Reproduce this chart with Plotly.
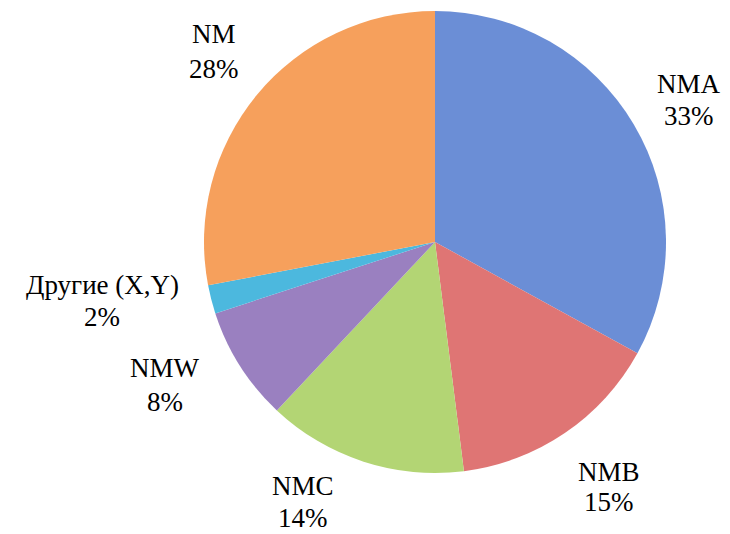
import plotly.graph_objects as go

labels = ["NMA", "NMB", "NMC", "NMW", "Другие (X,Y)", "NM"]
values = [33, 15, 14, 8, 2, 28]
colors = ["#6b8ed6", "#df7574", "#b3d574", "#9a80c0", "#4cb8de", "#f6a05c"]

# label line centers in pixels: (x, y of name line, y of percent line)
label_pos = [(689, 84, 116), (609, 472, 502), (303, 486, 518),
             (165, 368, 402), (102, 285, 317), (214, 34, 69)]

W, H = 730, 534
cx, cy, r = 435, 242, 231

fig = go.Figure(go.Pie(
    labels=labels,
    values=values,
    sort=False,
    direction="clockwise",
    rotation=0,
    textinfo="none",
    hoverinfo="label+percent",
    marker=dict(colors=colors, line=dict(width=0)),
    domain=dict(x=[(cx - r) / W, (cx + r) / W], y=[(H - cy - r) / H, (H - cy + r) / H]),
    showlegend=False,
))

total = sum(values)
for lab, val, (px, py1, py2) in zip(labels, values, label_pos):
    for txt, py in ((lab, py1), (f"{round(100 * val / total)}%", py2)):
        fig.add_annotation(
            x=px / W, y=1 - py / H, xref="paper", yref="paper",
            text=txt, showarrow=False, xanchor="center", yanchor="middle",
            font=dict(family="Times New Roman", size=27, color="black"),
        )

fig.update_layout(
    width=W, height=H,
    font=dict(family="Times New Roman", size=27, color="black"),
    margin=dict(l=0, r=0, t=0, b=0),
    paper_bgcolor="white", plot_bgcolor="white",
)

fig.write_html("out.html")
